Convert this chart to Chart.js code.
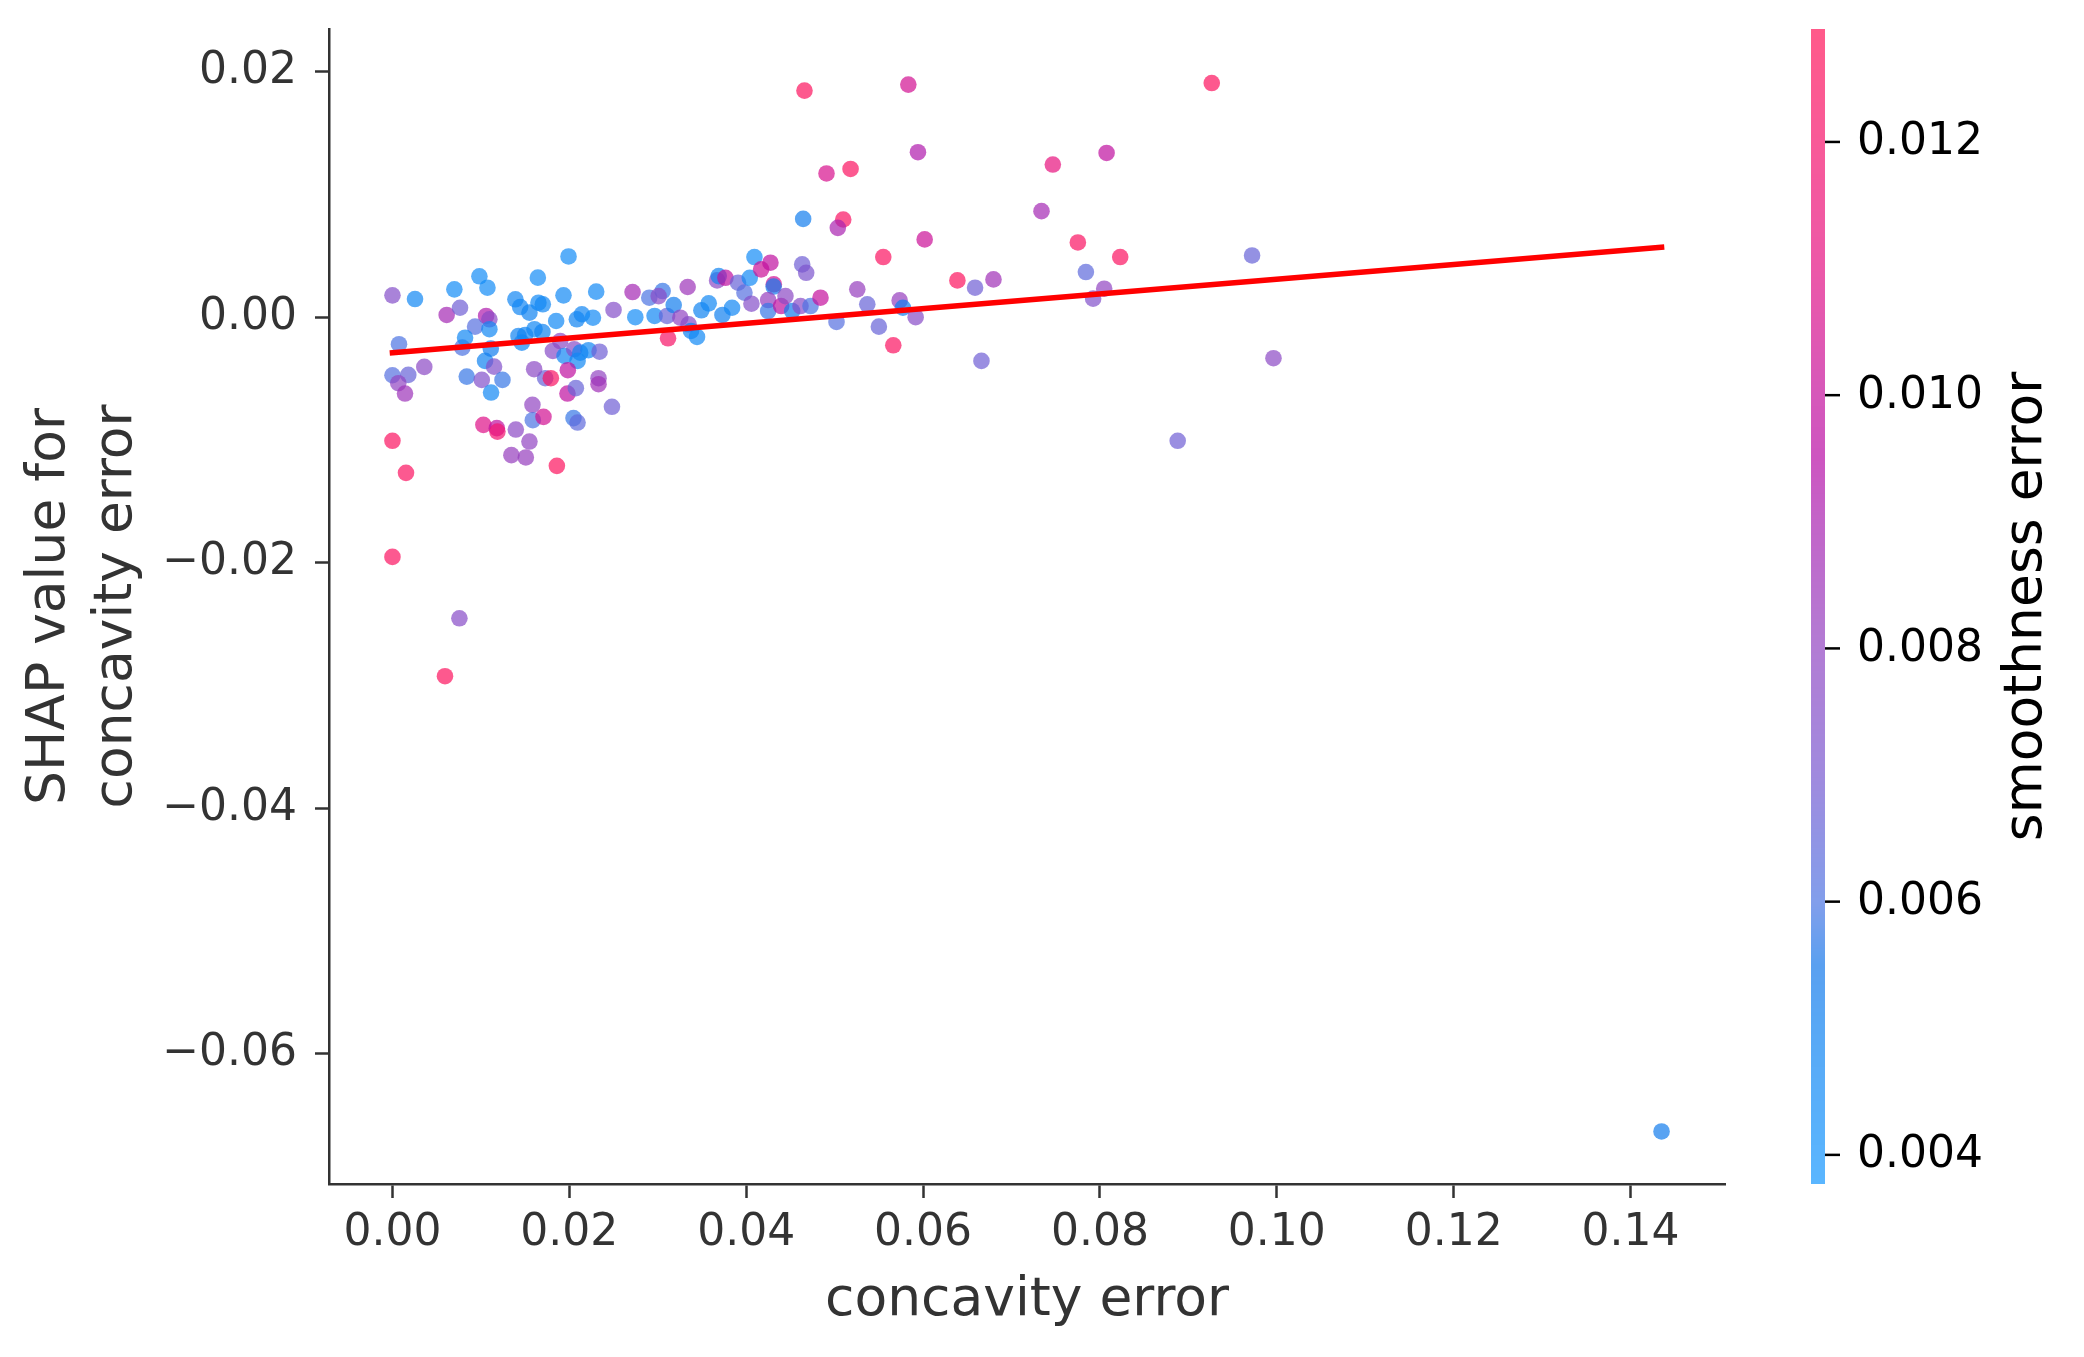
<!DOCTYPE html>
<html><head><meta charset="utf-8">
<script src="https://cdn.jsdelivr.net/npm/chart.js@4/dist/chart.umd.min.js"></script>
<style>html,body{margin:0;padding:0;background:#fff}#wrap{width:2084px;height:1357px}</style>
</head><body><div id="wrap"><canvas id="c" width="2084" height="1357"></canvas></div>
<script>
// ---- data ----
const concavityError = [
0.04644,0.01991,0.00983,0.01074,0.00700,0.01644,0.0,0.00255,0.01934,0.02304,
0.0139,0.01444,0.01549,0.01651,0.01700,0.00613,0.00764,0.01059,0.01096,0.00934,
0.01096,0.01851,0.02085,0.02142,0.02267,0.025,0.02746,0.02715,0.02964,0.02904,
0.03055,0.0301,0.03105,0.0318,0.03338,0.03255,0.03349,0.03376,0.03444,0.03116,
0.03493,0.03576,0.03731,0.0384,0.03671,0.03689,0.03765,0.03908,0.0398,0.04059,
0.0404,0.04093,0.04169,0.04274,0.04312,0.0431,0.04248,0.04248,0.04395,0.04444,
0.04633,0.04678,0.0452,0.04614,0.04727,0.0484,0.00074,0.0,0.00179,0.00066,
0.00142,0.0036,0.0079,0.00821,0.01047,0.01112,0.01149,0.0084,0.0101,0.01244,
0.01115,0.01425,0.015,0.01606,0.01696,0.01463,0.01814,0.01897,0.01946,0.02055,
0.02123,0.02217,0.02342,0.02093,0.01983,0.01727,0.01791,0.01602,0.0233,0.0233,
0.01979,0.02074,0.02482,0.01583,0.01587,0.01708,0.02047,0.02093,0.01028,0.0118,
0.01187,0.01395,0.01549,0.01345,0.01508,0.01859,0.0,0.00153,0.0,0.00757,
0.00594,0.05097,0.05036,0.06018,0.0555,0.05256,0.05369,0.05021,0.055,0.05735,
0.05772,0.05916,0.05663,0.06388,0.06588,0.06796,0.0666,0.04659,0.05833,0.09264,
0.05942,0.08075,0.07467,0.04908,0.0518,0.07339,0.0775,0.08229,0.0972,0.07841,
0.08048,0.07923,0.08879,0.09962,0.1435
];
const shapValues = [
0.00801,0.00495,0.00333,0.00240,0.00227,0.00322,0.00178,0.00148,0.00178,0.00208,
0.00146,0.00083,0.00037,0.00118,0.00105,0.00018,0.00077,0.0001,-0.00017,-0.00077,
-0.00098,-0.00031,-0.00017,0.00024,-0.00004,0.00059,0.0,0.00205,0.0001,0.00159,
0.00213,0.00172,0.0001,0.00099,0.00246,-0.00004,-0.00058,-0.00112,-0.00161,-0.00172,
0.00056,0.00113,0.00018,0.00077,0.003,0.00335,0.00321,0.00281,0.002,0.0011,
0.00321,0.0049,0.0039,0.00444,0.00268,0.0025,0.0014,0.0005,0.00091,0.00172,
0.0043,0.00362,0.0005,0.00091,0.00091,0.00159,-0.0022,-0.00473,-0.0047,-0.00538,
-0.00622,-0.00405,-0.00248,-0.00167,-0.00356,-0.00256,-0.00403,-0.00484,-0.00511,-0.00511,
-0.00614,-0.00153,-0.00145,-0.00098,-0.0012,-0.00207,-0.00275,-0.00194,-0.00316,-0.00261,
-0.00289,-0.00269,-0.00281,-0.00356,-0.00432,-0.00497,-0.00497,-0.00424,-0.00497,-0.00546,
-0.00622,-0.00578,-0.0073,-0.00714,-0.00839,-0.00812,-0.00822,-0.00858,-0.00877,-0.00904,
-0.00932,-0.00915,-0.01013,-0.01124,-0.01143,-0.01211,-0.01007,-0.01268,-0.01953,-0.02453,
-0.02925,0.00796,0.00728,0.00634,0.0049,0.00227,0.00105,-0.00039,-0.00077,0.00137,
0.00077,0.0,-0.00229,0.003,0.0024,0.00308,-0.00356,0.01846,0.01895,0.01908,
0.01344,0.01338,0.01244,0.01171,0.01208,0.00864,0.00609,0.0049,0.00503,0.00368,
0.00232,0.00151,-0.01007,-0.00334,-0.06634
];
const smoothnessError = [
0.0052,0.0045,0.0045,0.0045,0.0045,0.0045,0.0075,0.0047,0.0046,0.0046,
0.0048,0.0048,0.0050,0.0046,0.0047,0.0088,0.0068,0.0092,0.0078,0.0062,
0.0047,0.0046,0.0050,0.0048,0.0046,0.0075,0.0045,0.0088,0.0047,0.0060,
0.0058,0.0077,0.0066,0.0052,0.0085,0.0080,0.0076,0.0050,0.0046,0.0122,
0.0050,0.0047,0.0051,0.0048,0.0078,0.0050,0.0098,0.0066,0.0062,0.0075,
0.0046,0.0045,0.0102,0.0098,0.0104,0.0054,0.0082,0.0058,0.0098,0.0078,
0.0068,0.0072,0.0054,0.0076,0.0060,0.0100,0.0060,0.0062,0.0066,0.0080,
0.0085,0.0078,0.0060,0.0047,0.0050,0.0052,0.0074,0.0058,0.0074,0.0058,
0.0047,0.0050,0.0050,0.0047,0.0050,0.0048,0.0076,0.0078,0.0048,0.0076,
0.0050,0.0047,0.0068,0.0047,0.0098,0.0066,0.0124,0.0078,0.0080,0.0086,
0.0098,0.0066,0.0068,0.0080,0.0060,0.0104,0.0058,0.0064,0.0108,0.0098,
0.0118,0.0078,0.0080,0.0082,0.0082,0.0126,0.0125,0.0125,0.0125,0.0076,
0.0126,0.0124,0.0090,0.0102,0.0125,0.0082,0.0066,0.0062,0.0066,0.0082,
0.0052,0.0076,0.0125,0.0126,0.0068,0.0086,0.0068,0.0126,0.0104,0.0126,
0.0092,0.0098,0.0112,0.0106,0.0125,0.0088,0.0124,0.0125,0.0066,0.0064,
0.0080,0.0074,0.0068,0.0078,0.0053
];
const fitLineX = [0, 0.1435];
const fitLineY = [-0.0029, 0.0057];
const xTicks = [0, 0.02, 0.04, 0.06, 0.08, 0.10, 0.12, 0.14];
const yTicks = [-0.06, -0.04, -0.02, 0, 0.02];
const colorTicks = [0.004, 0.006, 0.008, 0.010, 0.012];
const colorRange = [0.00377, 0.012892];
const colorStops = [
  [0.00377, [90,182,255]], [0.0050, [88,168,245]], [0.0055, [90,160,240]],
  [0.0060, [130,158,235]], [0.0070, [160,138,222]], [0.0080, [178,124,212]],
  [0.0090, [195,100,200]], [0.0095, [205,85,192]], [0.0100, [214,88,186]],
  [0.0110, [236,88,168]], [0.0120, [248,90,152]], [0.012892, [255,90,138]]
];

// ---- styling helpers ----
const FONT = 'DejaVu Sans';
const ALPHA = 0.7;
function dispColor(v){
  const s = colorStops;
  if (v <= s[0][0]) return s[0][1];
  for (let i = 1; i < s.length; i++) {
    if (v <= s[i][0]) {
      const t = (v - s[i-1][0]) / (s[i][0] - s[i-1][0]);
      return s[i-1][1].map((c,k) => c + (s[i][1][k] - c) * t);
    }
  }
  return s[s.length-1][1];
}
function pointColor(v){
  const d = dispColor(v);
  const b = d.map(c => Math.max(0, Math.min(255, Math.round((c - 255*(1-ALPHA)) / ALPHA))));
  return `rgba(${b[0]},${b[1]},${b[2]},${ALPHA})`;
}
const fmtSigned = (v, d) => (v < 0 ? '\u2212' : '') + Math.abs(v).toFixed(d);
const noPad = s => { s.paddingTop = 0; s.paddingBottom = 0; s.paddingLeft = 0; s.paddingRight = 0; };

const colorbarPlugin = {
  id: 'colorbar',
  afterDraw(chart) {
    const sc = chart.scales.cb;
    const ctx = chart.ctx;
    const x0 = chart.chartArea.right + 86, w = 14;
    const top = sc.getPixelForValue(colorRange[1]);
    const bot = sc.getPixelForValue(colorRange[0]);
    ctx.save();
    for (let y = Math.floor(top); y < Math.ceil(bot); y++) {
      const v = sc.getValueForPixel(y + 0.5);
      const c = dispColor(v);
      ctx.fillStyle = `rgb(${c.map(Math.round).join(',')})`;
      ctx.fillRect(x0, y, w, 1);
    }
    ctx.strokeStyle = '#000';
    ctx.lineWidth = 2.5;
    ctx.fillStyle = '#000';
    ctx.font = `44px "${FONT}"`;
    ctx.textAlign = 'left';
    ctx.textBaseline = 'middle';
    colorTicks.forEach(v => {
      const y = sc.getPixelForValue(v);
      ctx.beginPath(); ctx.moveTo(x0 + w, y); ctx.lineTo(x0 + w + 15, y); ctx.stroke();
      ctx.fillText(v.toFixed(3), x0 + w + 32, y + 1);
    });
    ctx.translate(chart.chartArea.right + 302, (top + bot) / 2);
    ctx.rotate(-Math.PI / 2);
    ctx.textAlign = 'center';
    ctx.font = `53.5px "${FONT}"`;
    ctx.fillText('smoothness error', 0, 0);
    ctx.restore();
  }
};

new Chart(document.getElementById('c'), {
  data: {
    datasets: [
      {
        type: 'line',
        data: fitLineX.map((x, i) => ({x, y: fitLineY[i]})),
        borderColor: '#ff0000', borderWidth: 5.5, pointRadius: 0, order: 0,
        borderCapStyle: 'square'
      },
      {
        type: 'scatter',
        data: concavityError.map((x, i) => ({x, y: shapValues[i]})),
        backgroundColor: smoothnessError.map(pointColor),
        borderWidth: 0, pointRadius: 8.3, pointHoverRadius: 8.3, order: 1
      }
    ]
  },
  options: {
    responsive: false, animation: false, devicePixelRatio: 1,
    events: [],
    layout: { padding: { left: 0, right: 359, top: 29, bottom: 0 } },
    plugins: { legend: { display: false }, tooltip: { enabled: false } },
    scales: {
      x: {
        type: 'linear', position: 'bottom', min: -0.007175, max: 0.150675,
        afterFit: s => { s.height = 173; noPad(s); },
        afterBuildTicks: s => { s.ticks = xTicks.map(v => ({value: v})); },
        ticks: { font: { family: FONT, size: 44 }, color: '#333333', padding: 9,
                 maxRotation: 0, autoSkip: false, callback: v => fmtSigned(v, 2) },
        grid: { drawOnChartArea: false, drawTicks: true, tickLength: 14, tickWidth: 2.5, tickColor: '#333333' },
        border: { display: true, color: '#333333', width: 2.5 },
        title: { display: true, text: 'concavity error', color: '#333333',
                 font: { family: FONT, size: 53.5, lineHeight: 1.25 }, padding: { top: 0, bottom: 22 } }
      },
      y: {
        type: 'linear', position: 'left', min: -0.07062, max: 0.02348,
        afterFit: s => { s.width = 329; noPad(s); },
        afterBuildTicks: s => { s.ticks = yTicks.map(v => ({value: v})); },
        ticks: { font: { family: FONT, size: 44 }, color: '#333333', padding: 18,
                 autoSkip: false, callback: v => fmtSigned(v, 2) },
        grid: { drawOnChartArea: false, drawTicks: true, tickLength: 14, tickWidth: 2.5, tickColor: '#333333' },
        border: { display: true, color: '#333333', width: 2.5 },
        title: { display: true, text: ['SHAP value for', 'concavity error'], color: '#333333',
                 font: { family: FONT, size: 53.5, lineHeight: 1.25 }, padding: { top: 17, bottom: 0 } }
      },
      cb: {
        type: 'linear', position: 'right', display: false,
        min: colorRange[0], max: colorRange[1]
      }
    }
  },
  plugins: [colorbarPlugin]
});
</script>
</body></html>
